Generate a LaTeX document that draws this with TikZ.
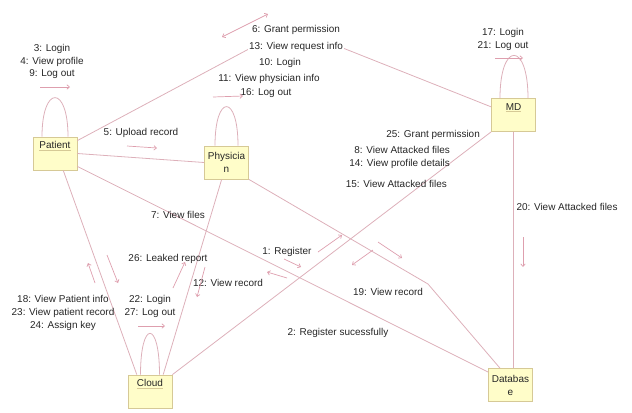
\documentclass[tikz,border=0pt]{standalone}
\usepackage{fontspec}
\setmainfont{Liberation Sans}
\usetikzlibrary{arrows.meta}
\definecolor{objfill}{HTML}{FFFDC9}
\definecolor{objline}{HTML}{D6C996}
\definecolor{linkcol}{HTML}{DDB0BA}
\definecolor{msgcol}{HTML}{DE9FAE}
\definecolor{txtcol}{HTML}{262626}
% object name, underlined in the frame colour
\newcommand{\objname}[1]{{\color{objline}\underline{\color{txtcol}#1}}}
\begin{document}
\begin{tikzpicture}[x=1bp,y=-1bp,
  obj/.style={draw=objline,fill=objfill,line width=0.8bp,minimum width=44bp,
    minimum height=33bp,inner sep=0pt,align=center,
    font=\fontsize{10}{13}\selectfont,text=txtcol},
  link/.style={draw=linkcol,line width=0.8bp},
  tip/.tip={Straight Barb[length=2.6bp,width=4.5bp]},
  msg/.style={draw=msgcol,line width=0.7bp,-tip},
  lbl/.style={font=\fontsize{10}{12.6}\selectfont,text=txtcol,inner sep=1pt,align=center},
]
\useasboundingbox (0,0) rectangle (632,412);

% objects
\node[obj] (Patient)   at (55,153.5)   {\objname{Patient}\\\strut};
\node[obj] (Physician) at (226.5,162.5) {Physicia\\n};
\node[obj] (MD)        at (513.5,115)  {\objname{MD}\\\strut};
\node[obj] (Cloud)     at (150,391.5)  {\objname{Cloud}\\\strut};
\node[obj] (Database)  at (510.5,385)  {Databas\\e};

\coordinate (bendA) at (290,27);
\coordinate (bendB) at (428,284);

% links
\draw[link] (Patient.30) -- (bendA) -- (MD.160);
\draw[link] (Patient.east) -- (Physician.west);
\draw[link] (Patient.-30) -- (Database.150);
\draw[link] (Patient.-64) -- (Cloud.128);
\draw[link] (Physician.south east) -- (bendB) -- (Database.122);
\draw[link] (Physician.-106) -- (Cloud.52);
\draw[link] (MD.south west) -- (Cloud.north east);
\draw[link] (MD.south) -- (MD.south |- Database.north);

% self links
\draw[link] ([xshift=-13bp]Patient.north) .. controls +(0,-52) and +(0,-52) .. ([xshift=13bp]Patient.north);
\draw[link] ([xshift=-11.5bp]Physician.north) .. controls +(0,-52) and +(0,-52) .. ([xshift=11.5bp]Physician.north);
\draw[link] ([xshift=-13.5bp]MD.north) .. controls +(0,-57) and +(0,-57) .. ([xshift=14.5bp]MD.north);
\draw[link] ([xshift=-9.5bp]Cloud.north) .. controls +(0,-55) and +(0,-55) .. ([xshift=9.5bp]Cloud.north);

% message labels
\node[lbl,font=\fontsize{10}{12.4}\selectfont] (mPat) at (52,61.5) {3: Login\\4: View profile\\9: Log out};
\node[lbl,fill=white,font=\fontsize{10}{17}\selectfont] (mPatMD) at (296,38.5) {6: Grant permission\\13: View request info};
\node[lbl] (mPhy1) at (280,63) {10: Login};
\node[lbl] (mPhy2) at (269,79) {11: View physician info};
\node[lbl] (mPhy3) at (266,93) {16: Log out};
\node[lbl,font=\fontsize{10}{13}\selectfont] (mMD) at (503,39.5) {17: Login\\21: Log out};
\node[lbl,anchor=east] (mMC1) at (481,135) {25: Grant permission};
\node[lbl,anchor=east] (mMC2) at (451,150) {8: View Attacked files};
\node[lbl,anchor=east] (mMC3) at (451,164) {14: View profile details};
\node[lbl,anchor=east] (mMC4) at (448,184) {15: View Attacked files};
\node[lbl] (mMDB) at (567,207) {20: View Attacked files};
\node[lbl] (mUp)  at (141,133) {5: Upload record};
\node[lbl] (mVf)  at (178,215) {7: View files};
\node[lbl] (mReg) at (287,252) {1: Register};
\node[lbl] (mLk)  at (168,259) {26: Leaked report};
\node[lbl] (mVr)  at (228,283) {12: View record};
\node[lbl,font=\fontsize{10}{12.8}\selectfont] (mPC) at (63,313) {18: View Patient info\\23: View patient record\\24: Assign key};
\node[lbl,font=\fontsize{10}{13}\selectfont] (mCl) at (150,306.5) {22: Login\\27: Log out};
\node[lbl] (mRs)  at (338,333) {2: Register sucessfully};
\node[lbl] (mVr2) at (388,292) {19: View record};

% message arrows
\draw[draw=msgcol,line width=0.7bp,tip-tip] (222,37) -- (268,14);
\draw[msg] (40,87) -- (70,87);
\draw[msg] (127,146) -- (157,148);
\draw[msg] (213,97) -- (243,96);
\draw[msg] (495,58) -- (523,58);
\draw[msg] (95,283) -- (88,263);
\draw[msg] (107,255) -- (118,283);
\draw[msg] (173,288) -- (185,262);
\draw[msg] (205,267) -- (197,297);
\draw[msg] (138,326) -- (165,326);
\draw[msg] (284,259) -- (301,267);
\draw[msg] (318,252) -- (342,235);
\draw[msg] (373,250) -- (352,265);
\draw[msg] (378,242) -- (402,258);
\draw[msg] (287,278) -- (267,272);
\draw[msg] (523,237) -- (523,267);
\end{tikzpicture}
\end{document}
